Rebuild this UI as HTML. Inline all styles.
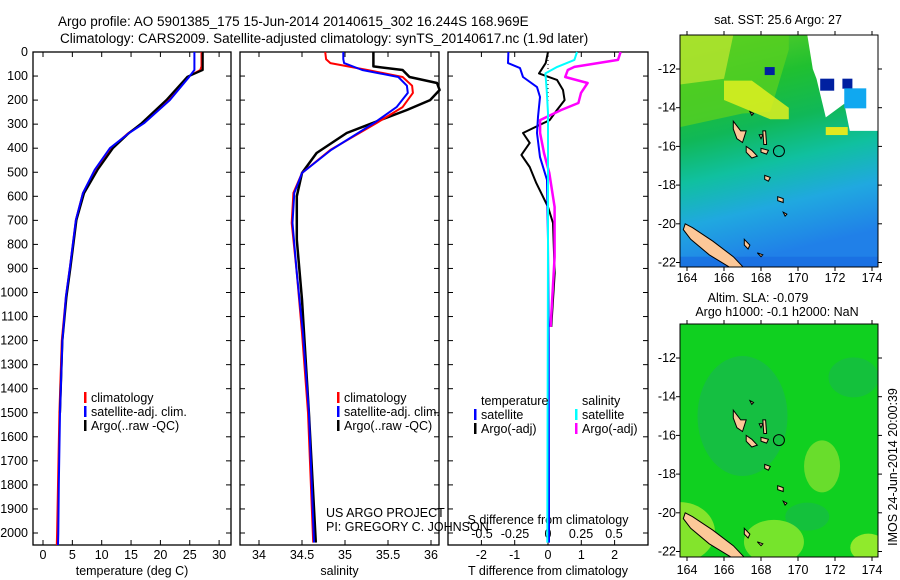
<!DOCTYPE html>
<html><head><meta charset="utf-8"><style>
html,body{margin:0;padding:0;background:#fff;}
svg{display:block;font-family:"Liberation Sans",sans-serif;}
</style></head><body>
<svg id="chart" width="900" height="580" viewBox="0 0 900 580">
<text x="58" y="26" font-size="13.5">Argo profile: AO 5901385_175 15-Jun-2014 20140615_302 16.244S 168.969E</text>
<text x="60" y="43" font-size="13.5">Climatology: CARS2009. Satellite-adjusted climatology: synTS_20140617.nc (1.9d later)</text>
<g id="panelT"></g>
<g id="panelS"></g>
<g id="panelD"></g>
<g id="mapA"></g>
<g id="mapB"></g>
</svg>
<script>
var depthTicks=[0,100,200,300,400,500,600,700,800,900,1000,1100,1200,1300,1400,1500,1600,1700,1800,1900,2000];
var tempTicks=[0,5,10,15,20,25,30];
var salTicks=[34,34.5,35,35.5,36];
var tdiffTicks=[-2,-1,0,1,2];
var sdiffTicks=[-0.5,-0.25,0,0.25,0.5];
var tempDepth=[0,60,75,103,200,296,338,400,490,587,698,893,1018,1200,1500,1800,2000,2050];
var tempClim=[27,27,26.8,24.7,21.3,17.0,14.5,11.6,8.9,6.8,5.6,4.6,3.9,3.2,2.8,2.55,2.4,2.35];
var tempSat=[25.8,25.8,25.8,24.9,21.6,17.2,14.6,11.4,8.8,6.8,5.6,4.6,3.9,3.3,2.9,2.7,2.6,2.55];
var tempArgoDepth=[0,60,75,103,200,296,338,400,490,587,698,893,1018,1200,1500];
var tempArgo=[27.2,27.2,27.2,24.6,21.0,16.8,14.6,11.9,9.3,7.0,5.7,4.7,4.0,3.3,2.9];
var salClimDepth=[0,30,46,75,104,140,170,229,295,407,503,586,711,919,1168,1500,2040];
var salClim=[34.77,34.78,34.83,35.26,35.67,35.78,35.79,35.67,35.37,34.83,34.5,34.4,34.38,34.44,34.5,34.57,34.63];
var salSat=[34.98,34.98,34.99,35.2,35.62,35.72,35.73,35.6,35.34,34.84,34.5,34.41,34.39,34.44,34.51,34.58,34.64];
var salArgoDepth=[0,60,75,104,129,158,200,241,283,337,420,503,600,780,1030,1500,2040];
var salArgo=[35.33,35.33,35.67,35.75,36.07,36.1,35.99,35.72,35.41,35.02,34.67,34.5,34.44,34.44,34.5,34.58,34.66];
var tSatDepth=[0,46,67,104,146,187,270,337,437,532,782,1200,2040];
var tSatDiff=[-1.19,-1.2,-0.84,-0.75,-0.33,-0.24,-0.3,-0.33,-0.24,-0.03,0,0.02,0.03];
var tArgoDepth=[0,46,89,116,158,200,241,283,337,378,428,478,545,644,711,919,1143];
var tArgoDiff=[0,-0.07,-0.27,0.27,0.45,0.5,0.27,0.05,-0.75,-0.55,-0.8,-0.55,-0.35,0,0.15,0.2,0.1];
var sSatDepth=[0,33,62,89,158,254,800,2040];
var sSatDiff=[0.22,0.2,0.07,-0.02,-0.01,0,0,-0.005];
var sArgoDepth=[0,33,62,75,104,129,170,212,241,283,337,420,503,644,852,1143];
var sArgoDiff=[0.55,0.53,0.2,0.15,0.13,0.3,0.25,0.23,0.1,-0.06,-0.06,-0.03,0.01,0.05,0.05,0.02];
var mapLonTicks=[164,166,168,170,172,174];
var mapLatTicks=[-12,-14,-16,-18,-20,-22];

var SVGNS="http://www.w3.org/2000/svg";
function mk(parent,tag,attrs,txt){
  var e=document.createElementNS(SVGNS,tag);
  for(var k in attrs){e.setAttribute(k,attrs[k]);}
  if(txt!==undefined){e.textContent=txt;}
  parent.appendChild(e);return e;
}
var PTOP=52,PBOT=545;
function yD(d){return 52+d*0.2405;}

function drawFrame(g,x0,x1,xs,ticks,labY,title,titleY,nm){
  var r=mk(g,'rect',{x:x0,y:PTOP,width:x1-x0,height:PBOT-PTOP,fill:'none',stroke:'#000','stroke-width':1.3});
  
  
  for(var i=0;i<depthTicks.length;i++){
    var y=yD(depthTicks[i]);
    mk(g,'line',{x1:x0,x2:x0+5,y1:y,y2:y,stroke:'#000'});
    mk(g,'line',{x1:x1-5,x2:x1,y1:y,y2:y,stroke:'#000'});
  }
  for(var j=0;j<ticks.length;j++){
    var x=xs(ticks[j]);
    mk(g,'line',{x1:x,x2:x,y1:PTOP,y2:PTOP+5,stroke:'#000'});
    mk(g,'line',{x1:x,x2:x,y1:PBOT-5,y2:PBOT,stroke:'#000'});
    if(labY){
      var t=mk(g,'text',{x:x,y:labY,'font-size':12.5,'text-anchor':'middle'},String(ticks[j]));
      
      
    }
  }
  if(title){
    var tt=mk(g,'text',{x:(x0+x1)/2,y:titleY,'font-size':12.5,'text-anchor':'middle'},title);
    
    
  }
}
function drawLine(g,xs,vals,deps,color,nm,w){
  var pts=[];
  for(var i=0;i<vals.length;i++){pts.push(xs(vals[i]).toFixed(1)+','+yD(deps[i]).toFixed(1));}
  var e=mk(g,'polyline',{points:pts.join(' '),fill:'none',stroke:color,'stroke-width':w||2,'stroke-linejoin':'round'});
  
  
}
function drawLegend(g,x,y,items,nm){
  for(var i=0;i<items.length;i++){
    var it=items[i];
    if(it[1]){mk(g,'rect',{x:x,y:y+i*14-6,width:2.5,height:11,fill:it[1]});}
    var t=mk(g,'text',{x:x+(it[1]?7:0),y:y+i*14+4,'font-size':12.5},it[0]);
    
    
  }
}
function xT(t){return 43+t*5.87;}
function xS(s){return 259+(s-34)*86;}
function xTd(t){return 548+t*33.3;}
function xSd(s){return 548+s*132;}

try{
var gT=document.getElementById('panelT');
for(var i=0;i<depthTicks.length;i++){
  var dl=mk(gT,'text',{x:28,y:yD(depthTicks[i])+4,'font-size':12.5,'text-anchor':'end'},String(depthTicks[i]));
  
  
}
drawFrame(gT,33,231,xT,tempTicks,559,'temperature (deg C)',575,'temperature');
drawLine(gT,xT,tempClim,tempDepth,'#f00','temp-climatology-line');
drawLine(gT,xT,tempArgo,tempArgoDepth,'#000','temp-argo-line',2.2);
drawLine(gT,xT,tempSat,tempDepth,'#00f','temp-satellite-line');
drawLegend(gT,84,398,[['climatology','#f00'],['satellite-adj. clim.','#00f'],['Argo(..raw -QC)','#000']],'temp-legend');
}catch(e){console.log(e);}

try{
var gS=document.getElementById('panelS');
drawFrame(gS,240,439,xS,salTicks,559,'salinity',575,'salinity');
drawLine(gS,xS,salArgo,salArgoDepth,'#000','sal-argo-line',2.5);
drawLine(gS,xS,salClim,salClimDepth,'#f00','sal-climatology-line');
drawLine(gS,xS,salSat,salClimDepth,'#00f','sal-satellite-line');
drawLegend(gS,337,398,[['climatology','#f00'],['satellite-adj. clim.','#00f'],['Argo(..raw -QC)','#000']],'sal-legend');
var c1=mk(gS,'text',{x:326,y:517,'font-size':12.5},'US ARGO PROJECT');


var c2=mk(gS,'text',{x:326,y:531,'font-size':12.5},'PI: GREGORY C. JOHNSON');


}catch(e){console.log(e);}

try{
var gD=document.getElementById('panelD');
drawFrame(gD,448,648,xTd,tdiffTicks,559,'T difference from climatology',575,'tdiff');
for(var i=0;i<sdiffTicks.length;i++){
  var sl=mk(gD,'text',{x:xSd(sdiffTicks[i]),y:538,'font-size':12.5,'text-anchor':'middle'},String(sdiffTicks[i]));
  
  
}
var sTitle=mk(gD,'text',{x:548,y:524,'font-size':12.5,'text-anchor':'middle'},'S difference from climatology');


var zl=mk(gD,'line',{x1:548,x2:548,y1:PTOP,y2:yD(1150),stroke:'#000','stroke-width':1,'stroke-dasharray':'1,3'});


drawLine(gD,xTd,tArgoDiff,tArgoDepth,'#000','tdiff-argo-line');
drawLine(gD,xSd,sArgoDiff,sArgoDepth,'#f0f','sdiff-argo-line',2.5);
drawLine(gD,xTd,tSatDiff,tSatDepth,'#00f','tdiff-satellite-line');
drawLine(gD,xSd,sSatDiff,sSatDepth,'#0ff','sdiff-satellite-line');
drawLegend(gD,481,401,[['temperature',null]],'tdiff-legend-head');
drawLegend(gD,474,415,[['satellite','#00f'],['Argo(-adj)','#000']],'tdiff-legend');
drawLegend(gD,582,401,[['salinity',null]],'sdiff-legend-head');
drawLegend(gD,575,415,[['satellite','#0ff'],['Argo(-adj)','#f0f']],'sdiff-legend');
}catch(e){console.log(e);}

var islands=[
 [[163.9,-20.0],[164.3,-20.2],[165.4,-20.9],[166.5,-21.7],[167.1,-22.3],[166.4,-22.3],[165.2,-21.6],[164.2,-20.8],[163.8,-20.3]],
 [[166.5,-14.7],[166.9,-15.2],[167.2,-15.2],[167.0,-15.8],[166.7,-15.6],[166.5,-15.1]],
 [[167.2,-16.0],[167.5,-16.2],[167.8,-16.5],[167.5,-16.6],[167.2,-16.3]],
 [[168.0,-16.1],[168.4,-16.2],[168.3,-16.4],[168.0,-16.3]],
 [[168.1,-15.2],[168.25,-15.2],[168.3,-15.9],[168.15,-15.9]],
 [[168.2,-17.5],[168.5,-17.6],[168.4,-17.8],[168.2,-17.7]],
 [[168.9,-18.6],[169.2,-18.7],[169.2,-18.9],[168.9,-18.8]],
 [[169.2,-19.4],[169.4,-19.5],[169.3,-19.6]],
 [[167.9,-15.4],[168.1,-15.4],[168.0,-15.6]],
 [[167.1,-20.8],[167.4,-21.1],[167.3,-21.3],[167.1,-21.1]],
 [[167.8,-21.5],[168.1,-21.6],[168.0,-21.7]],
 [[167.4,-14.2],[167.6,-14.3],[167.5,-14.4]]
];
function drawMap(g,y0,y1,latY0,titles,titlePos,lonLabY,kind){
  var x0=680,x1=878;
  function lx(lon){return 687+(lon-164)*18.5;}
  function ly(lat){return latY0+(-12-lat)*19.35;}
  function P(arr){var s=[];for(var i=0;i<arr.length;i++){s.push(arr[i][0].toFixed(1)+','+arr[i][1].toFixed(1));}return s.join(' ');}
  var cid='clipmap'+kind;
  var defs=mk(g,'defs',{});
  var cp=mk(defs,'clipPath',{id:cid});
  mk(cp,'rect',{x:x0,y:y0,width:x1-x0,height:y1-y0});
  var c=mk(g,'g',{'clip-path':'url(#'+cid+')'});
  if(kind==1){
    var lg=mk(defs,'linearGradient',{id:'sstgrad',x1:0,y1:0,x2:0.2,y2:1});
    var stops=[[0,'#60d028'],[0.25,'#20c030'],[0.45,'#10b858'],[0.62,'#10c0a0'],[0.8,'#20a8e0'],[1,'#2080e8']];
    for(var i=0;i<stops.length;i++){mk(lg,'stop',{offset:stops[i][0],'stop-color':stops[i][1]});}
    mk(c,'rect',{x:x0,y:y0,width:x1-x0,height:y1-y0,fill:'url(#sstgrad)'});
    mk(c,'polygon',{points:P([[x0,y0],[lx(169.5),y0],[lx(169.5),ly(-11)],[lx(168.5),ly(-14.2)],[lx(167),ly(-14.3)],[x0,ly(-15)]]),fill:'#58d020',opacity:0.8});
    mk(c,'polygon',{points:P([[x0,y0],[lx(166.5),y0],[lx(166),ly(-12.5)],[x0,ly(-12.8)]]),fill:'#c8e830',opacity:0.7});
    mk(c,'polygon',{points:P([[lx(166),ly(-12.6)],[lx(167.5),ly(-12.6)],[lx(169.5),ly(-14.0)],[lx(169.5),ly(-14.6)],[lx(168.5),ly(-14.6)],[lx(166),ly(-13.6)]]),fill:'#e0f020',opacity:0.85});
    mk(c,'polygon',{points:P([[lx(170.5),y0],[x1,y0],[x1,ly(-15.2)],[lx(172.8),ly(-15.2)],[lx(172.5),ly(-13.8)],[lx(171.5),ly(-14.5)],[lx(171),ly(-12.5)],[lx(170.8),ly(-12)]]),fill:'#fff'});
    mk(c,'rect',{x:lx(171.2),y:ly(-12.5),width:14,height:12,fill:'#0020a0'});
    mk(c,'rect',{x:lx(172.4),y:ly(-12.5),width:10,height:10,fill:'#0020a0'});
    mk(c,'rect',{x:lx(172.5),y:ly(-13),width:22,height:20,fill:'#10a8f0'});
    mk(c,'rect',{x:lx(171.5),y:ly(-15),width:22,height:8,fill:'#e0e820'});
    mk(c,'rect',{x:lx(168.2),y:ly(-11.9),width:10,height:8,fill:'#0020a0'});
    mk(c,'rect',{x:x0,y:ly(-21.7),width:x1-x0,height:25,fill:'#1868e0',opacity:0.6});
  } else {
    mk(c,'rect',{x:x0,y:y0,width:x1-x0,height:y1-y0,fill:'#10d020'});
    mk(c,'ellipse',{cx:lx(167),cy:ly(-15),rx:45,ry:60,fill:'#18b850',opacity:0.7});
    mk(c,'ellipse',{cx:lx(173),cy:ly(-13),rx:25,ry:20,fill:'#18b850',opacity:0.6});
    mk(c,'ellipse',{cx:lx(170.5),cy:ly(-20.2),rx:22,ry:14,fill:'#18b850',opacity:0.6});
    mk(c,'ellipse',{cx:lx(171.3),cy:ly(-17.6),rx:18,ry:26,fill:'#80e030',opacity:0.8});
    mk(c,'ellipse',{cx:lx(168.7),cy:ly(-21.5),rx:30,ry:22,fill:'#90e830',opacity:0.8});
    mk(c,'ellipse',{cx:x0,cy:ly(-21),rx:35,ry:30,fill:'#a0e830',opacity:0.8});
    mk(c,'ellipse',{cx:lx(173.8),cy:ly(-21.8),rx:18,ry:14,fill:'#b0f030',opacity:0.8});
  }
  for(var k=0;k<islands.length;k++){
    var pp=[];for(var m=0;m<islands[k].length;m++){pp.push([lx(islands[k][m][0]),ly(islands[k][m][1])]);}
    var isl=mk(c,'polygon',{points:P(pp),fill:'#fcc898',stroke:'#000','stroke-width':1});
    
    
  }
  var circ=mk(c,'circle',{cx:lx(168.969),cy:ly(-16.244),r:5.5,fill:'none',stroke:'#000','stroke-width':1});
  
  
  var fr=mk(g,'rect',{x:x0,y:y0,width:x1-x0,height:y1-y0,fill:'none',stroke:'#000','stroke-width':1});
  
  
  for(var a=0;a<mapLonTicks.length;a++){
    var v=mapLonTicks[a];
    mk(g,'line',{x1:lx(v),x2:lx(v),y1:y0-4,y2:y0,stroke:'#000'});
    mk(g,'line',{x1:lx(v),x2:lx(v),y1:y1,y2:y1+4,stroke:'#000'});
    var tl=mk(g,'text',{x:lx(v),y:lonLabY,'font-size':12.5,'text-anchor':'middle'},String(v));
    
    
  }
  for(var b=0;b<mapLatTicks.length;b++){
    var w=mapLatTicks[b];
    mk(g,'line',{x1:x0-4,x2:x0,y1:ly(w),y2:ly(w),stroke:'#000'});
    mk(g,'line',{x1:x1,x2:x1+4,y1:ly(w),y2:ly(w),stroke:'#000'});
    var tb=mk(g,'text',{x:676,y:ly(w)+4,'font-size':12.5,'text-anchor':'end'},String(w));
    
    
  }
  for(var q=0;q<titles.length;q++){
    var tq=mk(g,'text',{x:titlePos[q][0],y:titlePos[q][1],'font-size':12.5,'text-anchor':'middle'},titles[q]);
    
    
  }
}
try{ drawMap(document.getElementById('mapA'),35,267,69,['sat. SST: 25.6 Argo: 27'],[[778,24]],282,1); }catch(e){console.log(e);}
try{
drawMap(document.getElementById('mapB'),324,557,358,['Altim. SLA: -0.079','Argo h1000: -0.1 h2000: NaN'],[[758,302],[777,316]],574,2);
var im=mk(document.getElementById('mapB'),'text',{x:0,y:0,'font-size':12.5,'text-anchor':'middle',transform:'translate(897,467) rotate(-90)'},'IMOS 24-Jun-2014 20:00:39');


}catch(e){console.log(e);}
</script>
</body></html>
